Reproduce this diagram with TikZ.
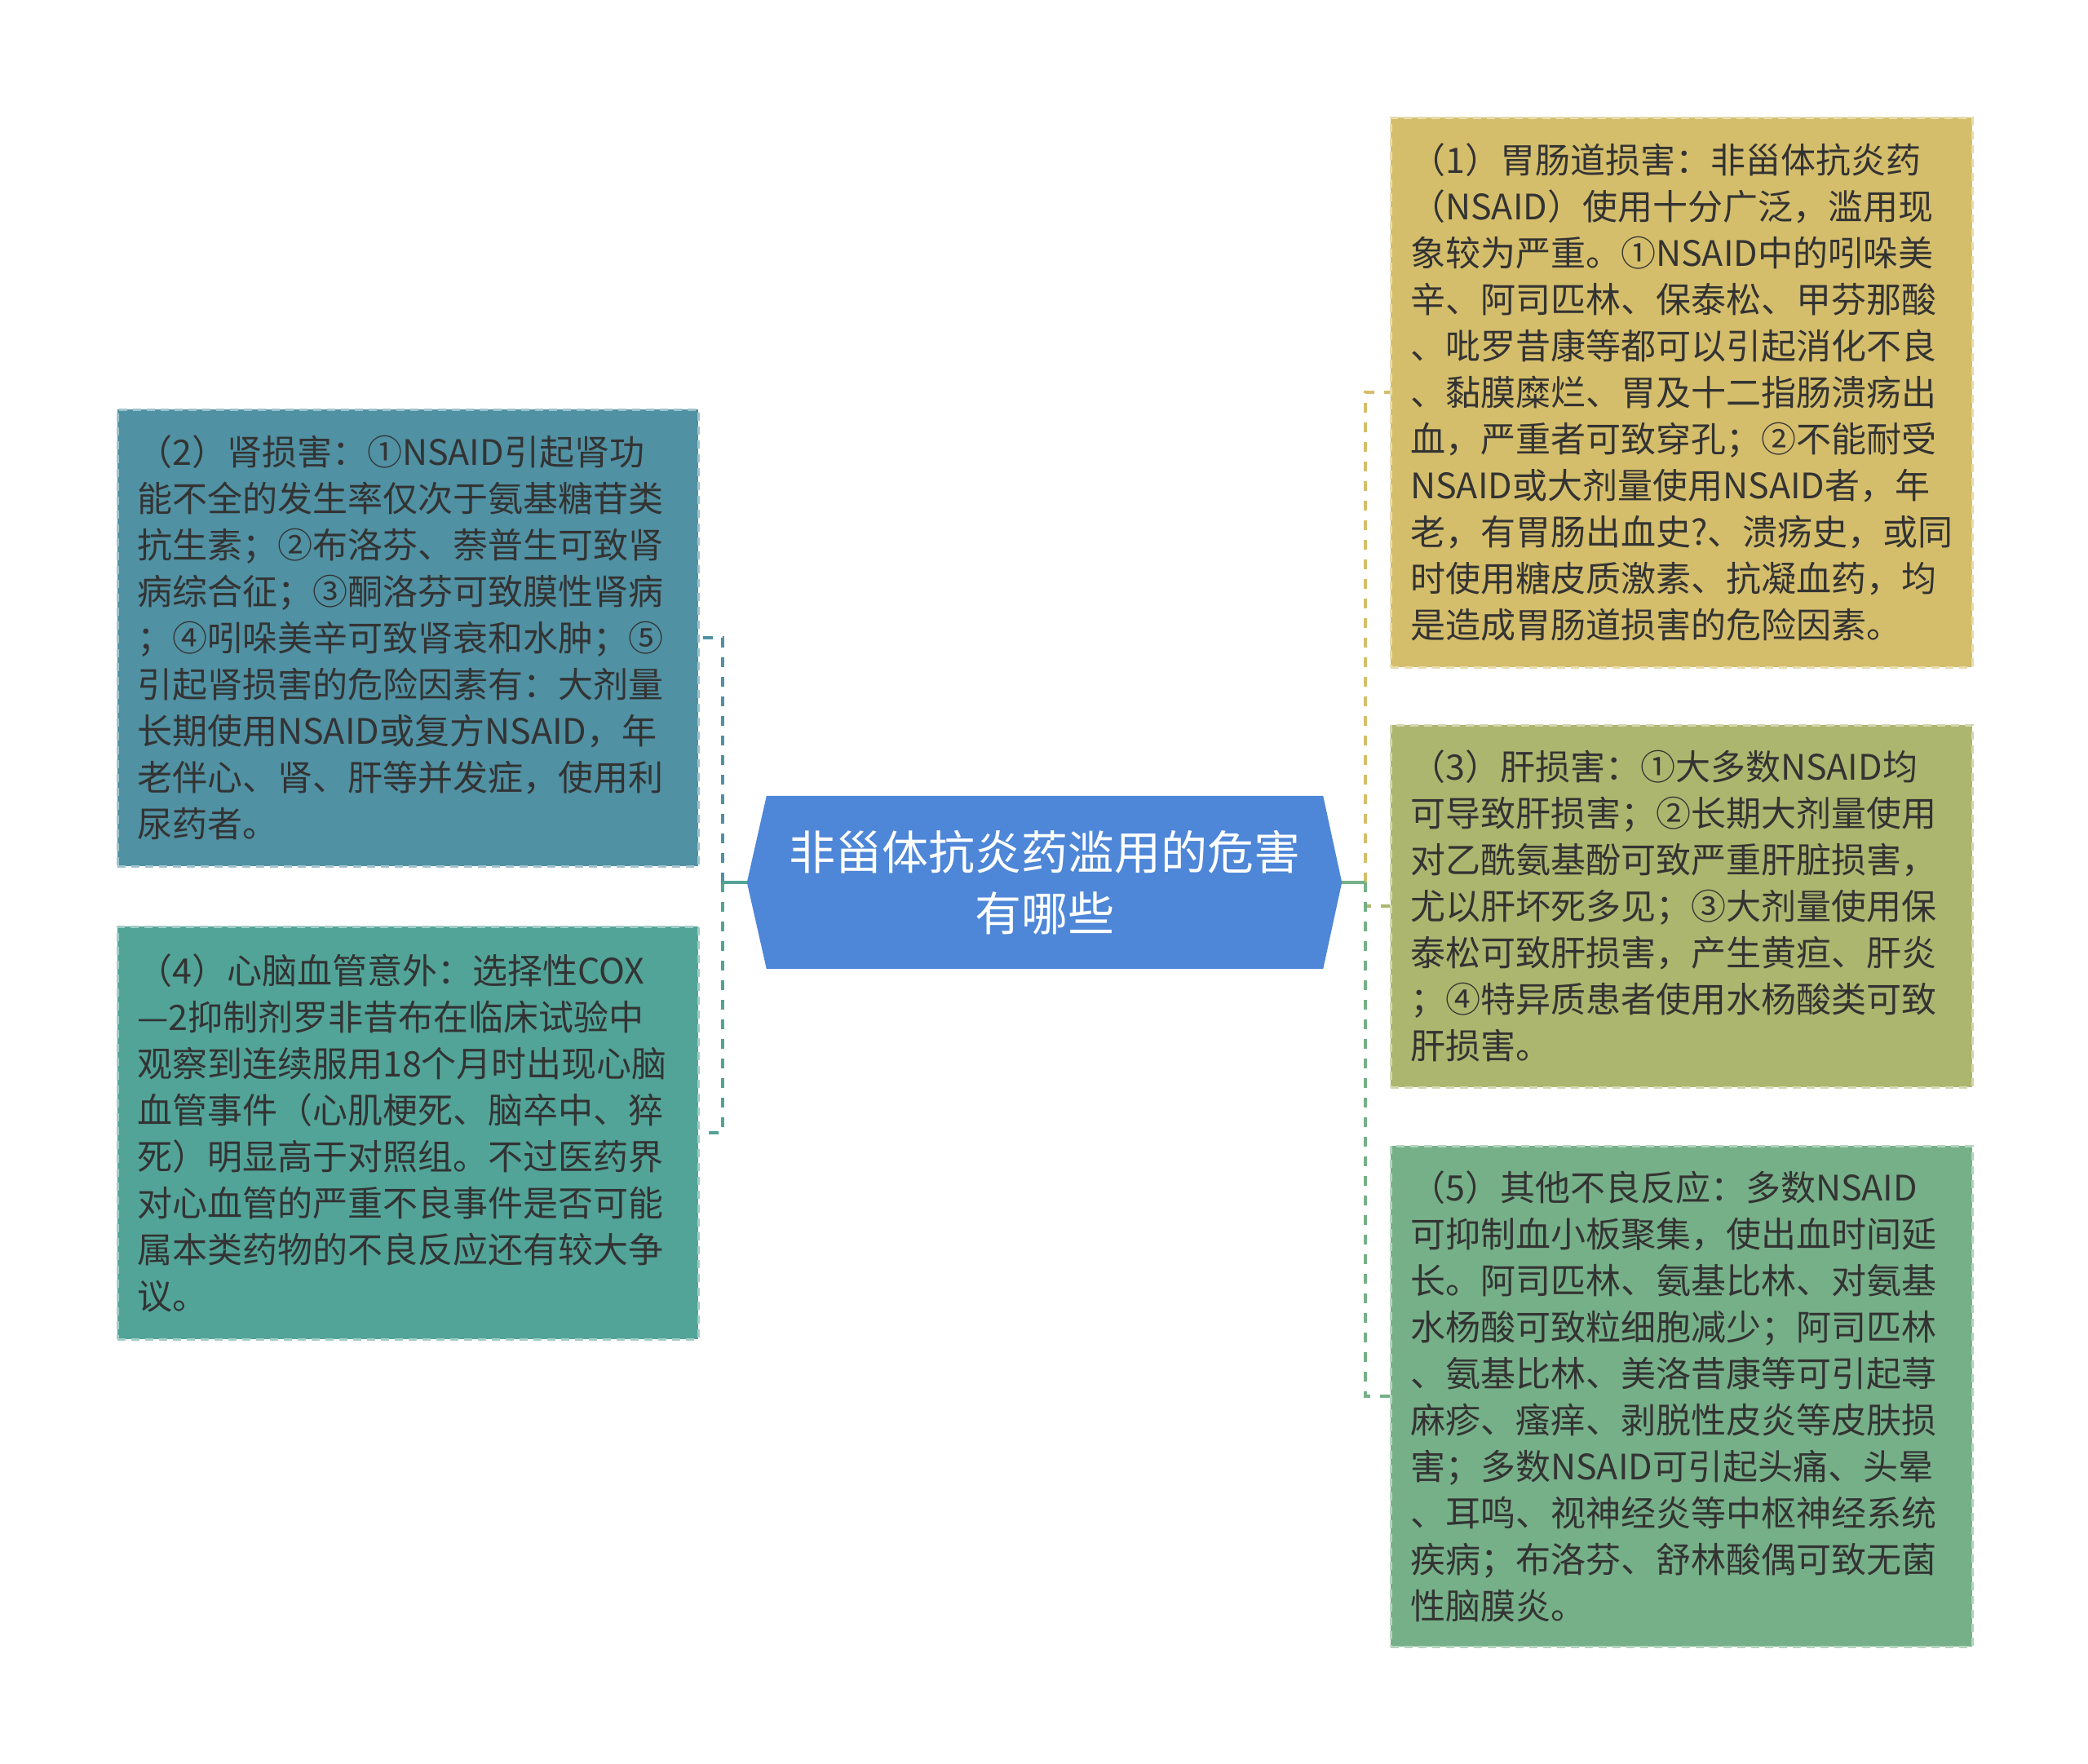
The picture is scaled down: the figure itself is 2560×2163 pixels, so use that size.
\documentclass[tikz,border=0pt]{standalone}
\usepackage{fontspec}
\setmainfont{Noto Sans CJK SC}
\usetikzlibrary{calc}
\definecolor{cyel}{HTML}{D5BE6B}
\definecolor{colive}{HTML}{ADB66E}
\definecolor{cgreen}{HTML}{76B088}
\definecolor{cblue}{HTML}{5091A3}
\definecolor{cteal}{HTML}{52A498}
\definecolor{croot}{HTML}{4E86D8}
\definecolor{ctxt}{HTML}{333333}
\tikzset{
  infobox/.style={draw=#1!55!white, fill=#1, line width=2.5pt, dash pattern=on 10pt off 7pt,
    inner xsep=24pt, inner ysep=0pt, align=left, anchor=north west, text=ctxt,
    font=\fontsize{43}{57}\selectfont},
  link/.style={draw=#1, line width=4pt, dash pattern=on 12pt off 12pt},
  stub/.style={draw=#1, line width=4.5pt},
}
\begin{document}
\begin{tikzpicture}[x=1pt,y=-1pt]
\useasboundingbox (0,0) rectangle (2560,2163);
\fill[white] (0,0) rectangle (2560,2163);

% root
\node[minimum width=729pt, minimum height=212pt, inner sep=0pt] (root) at (1280.5,1082) {};
\fill[croot] (root.west) -- ($(root.north west)+(24,0)$) -- ($(root.north east)+(-23,0)$) -- (root.east)
  -- ($(root.south east)+(-23,0)$) -- ($(root.south west)+(24,0)$) -- cycle;
\node[align=center, text=white, font=\fontsize{57}{75}\selectfont] (roottext) at (root.center)
  {非甾体抗炎药滥用的危害\\有哪些};

% boxes
\node[infobox=cyel, minimum width=713pt, minimum height=674pt, text width=665pt] (b1) at (1704,143) {%
（1）胃肠道损害：非甾体抗炎药\\
（NSAID）使用十分广泛，滥用现\\
象较为严重。①NSAID中的吲哚美\\
辛、阿司匹林、保泰松、甲芬那酸\\
、吡罗昔康等都可以引起消化不良\\
、黏膜糜烂、胃及十二指肠溃疡出\\
血，严重者可致穿孔；②不能耐受\\
NSAID或大剂量使用NSAID者，年\\
老，有胃肠出血史?、溃疡史，或同\\
时使用糖皮质激素、抗凝血药，均\\
是造成胃肠道损害的危险因素。};

\node[infobox=colive, minimum width=713pt, minimum height=444pt, text width=665pt] (b3) at (1704,888) {%
（3）肝损害：①大多数NSAID均\\
可导致肝损害；②长期大剂量使用\\
对乙酰氨基酚可致严重肝脏损害，\\
尤以肝坏死多见；③大剂量使用保\\
泰松可致肝损害，产生黄疸、肝炎\\
；④特异质患者使用水杨酸类可致\\
肝损害。};

\node[infobox=cgreen, minimum width=713pt, minimum height=614pt, text width=665pt] (b5) at (1704,1404) {%
（5）其他不良反应：多数NSAID\\
可抑制血小板聚集，使出血时间延\\
长。阿司匹林、氨基比林、对氨基\\
水杨酸可致粒细胞减少；阿司匹林\\
、氨基比林、美洛昔康等可引起荨\\
麻疹、瘙痒、剥脱性皮炎等皮肤损\\
害；多数NSAID可引起头痛、头晕\\
、耳鸣、视神经炎等中枢神经系统\\
疾病；布洛芬、舒林酸偶可致无菌\\
性脑膜炎。};

\node[infobox=cblue, minimum width=712pt, minimum height=560pt, text width=664pt] (b2) at (143,501) {%
（2）肾损害：①NSAID引起肾功\\
能不全的发生率仅次于氨基糖苷类\\
抗生素；②布洛芬、萘普生可致肾\\
病综合征；③酮洛芬可致膜性肾病\\
；④吲哚美辛可致肾衰和水肿；⑤\\
引起肾损害的危险因素有：大剂量\\
长期使用NSAID或复方NSAID，年\\
老伴心、肾、肝等并发症，使用利\\
尿药者。};

\node[infobox=cteal, minimum width=712pt, minimum height=506pt, text width=664pt] (b4) at (143,1135) {%
（4）心脑血管意外：选择性COX\\
—2抑制剂罗非昔布在临床试验中\\
观察到连续服用18个月时出现心脑\\
血管事件（心肌梗死、脑卒中、猝\\
死）明显高于对照组。不过医药界\\
对心血管的严重不良事件是否可能\\
属本类药物的不良反应还有较大争\\
议。};

% connectors
\coordinate (rbus) at (1674,1082);
\coordinate (lbus) at (886,1082);
\draw[link=cyel] (rbus) |- (b1.west);
\draw[link=colive] (rbus) |- (b3.west);
\draw[link=cgreen] (rbus) |- (b5.west);
\draw[stub=cgreen] (root.east) -- (rbus);
\draw[link=cblue] (lbus) |- (b2.east);
\draw[link=cteal] (lbus) |- (b4.east);
\draw[stub=cteal] (root.west) -- (lbus);
\end{tikzpicture}
\end{document}
